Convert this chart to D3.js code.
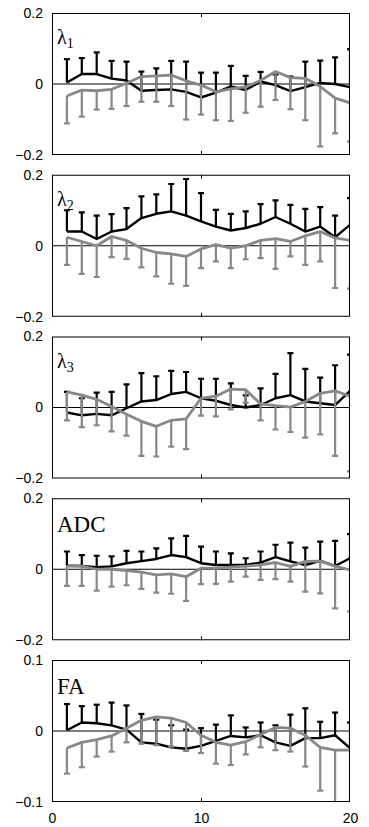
<!DOCTYPE html>
<html>
<head>
<meta charset="utf-8">
<script src="https://cdn.jsdelivr.net/npm/d3@7"></script>
<style>
  body { margin: 0; background: #fff; }
  svg { display: block; }
</style>
</head>
<body>
<svg width="369" height="827"></svg>
<script>
// sessions along x
var sessions = [1,2,3,4,5,6,7,8,9,10,11,12,13,14,15,16,17,18,19,20];
var xTicks = [0, 10, 20];
var yTicksWide = [0.2, 0, -0.2];
var yTicksNarrow = [0.1, 0, -0.1];

// lambda 1
var blackMean1 = [0.004,0.028,0.028,0.015,0.010,-0.019,-0.017,-0.015,-0.022,-0.038,-0.024,-0.007,-0.017,0.007,-0.003,-0.020,-0.009,0.003,0.000,-0.009];
var blackTop1  = [0.070,0.073,0.089,0.065,0.063,0.035,0.044,0.065,0.063,0.032,0.032,0.051,0.023,0.034,0.027,0.021,0.063,0.066,0.075,0.098];
var grayMean1  = [-0.034,-0.017,-0.019,-0.015,0.002,0.021,0.023,0.025,0.009,-0.003,-0.022,-0.014,-0.008,0.010,0.035,0.018,0.016,-0.007,-0.040,-0.053];
var grayBot1   = [-0.111,-0.092,-0.072,-0.070,-0.062,-0.050,-0.050,-0.062,-0.100,-0.086,-0.102,-0.104,-0.081,-0.064,-0.045,-0.071,-0.102,-0.176,-0.139,-0.162];

// lambda 2
var blackMean2 = [0.040,0.040,0.019,0.040,0.047,0.078,0.090,0.097,0.085,0.069,0.054,0.043,0.050,0.062,0.081,0.062,0.040,0.054,0.024,0.059];
var blackTop2  = [0.100,0.094,0.085,0.089,0.106,0.139,0.145,0.174,0.188,0.148,0.101,0.090,0.097,0.117,0.128,0.115,0.104,0.109,0.085,0.134];
var grayMean2  = [0.024,0.012,0.000,0.026,0.015,-0.007,-0.019,-0.023,-0.030,-0.009,0.003,-0.007,0.000,0.015,0.020,0.012,0.028,0.040,0.022,0.015];
var grayBot2   = [-0.054,-0.079,-0.088,-0.032,-0.037,-0.061,-0.086,-0.107,-0.113,-0.063,-0.044,-0.063,-0.038,-0.035,-0.065,-0.030,-0.054,-0.044,-0.119,-0.121];

// lambda 3
var blackMean3 = [-0.014,-0.022,-0.018,-0.022,-0.002,0.017,0.021,0.038,0.044,0.026,0.019,0.007,0.000,0.007,0.026,0.035,0.017,0.012,0.007,0.047];
var blackTop3  = [0.044,0.026,0.042,0.044,0.065,0.097,0.088,0.103,0.100,0.081,0.081,0.068,0.034,0.054,0.095,0.153,0.109,0.084,0.119,0.149];
var grayMean3  = [0.044,0.035,0.023,0.003,-0.019,-0.039,-0.053,-0.036,-0.032,0.026,0.032,0.052,0.050,0.010,0.005,0.001,0.017,0.040,0.047,0.032];
var grayBot3   = [-0.036,-0.055,-0.050,-0.067,-0.079,-0.136,-0.138,-0.110,-0.117,-0.023,-0.025,-0.005,0.014,-0.036,-0.062,-0.069,-0.085,-0.076,-0.136,-0.180];

// ADC
var blackMean4 = [0.010,0.009,0.006,0.008,0.017,0.023,0.029,0.040,0.034,0.017,0.012,0.012,0.012,0.019,0.034,0.022,0.012,0.024,0.009,0.031];
var blackTop4  = [0.050,0.040,0.038,0.036,0.052,0.050,0.059,0.087,0.094,0.064,0.050,0.045,0.031,0.050,0.069,0.075,0.061,0.078,0.080,0.099];
var grayMean4  = [0.009,0.009,0.000,0.000,-0.004,-0.008,-0.016,-0.013,-0.021,0.003,0.003,0.006,0.009,0.012,0.019,0.008,0.022,0.023,0.009,-0.002];
var grayBot4   = [-0.047,-0.047,-0.060,-0.049,-0.045,-0.055,-0.066,-0.069,-0.089,-0.042,-0.041,-0.035,-0.021,-0.030,-0.028,-0.035,-0.063,-0.068,-0.110,-0.119];

// FA
var blackMean5 = [0.001,0.012,0.011,0.008,0.002,-0.016,-0.018,-0.023,-0.025,-0.021,-0.014,-0.007,-0.009,-0.006,-0.016,-0.021,-0.010,-0.010,-0.006,-0.024];
var blackTop5  = [0.038,0.035,0.037,0.040,0.036,0.024,0.016,0.008,0.002,0.004,0.009,0.022,0.005,0.012,0.008,0.023,0.032,0.013,0.026,0.012];
var grayMean5  = [-0.024,-0.016,-0.012,-0.007,0.004,0.015,0.020,0.018,0.012,-0.006,-0.016,-0.020,-0.015,-0.005,0.005,0.004,-0.006,-0.023,-0.027,-0.027];
var grayBot5   = [-0.060,-0.051,-0.036,-0.029,-0.016,-0.018,-0.020,-0.022,-0.028,-0.031,-0.046,-0.048,-0.033,-0.023,-0.027,-0.029,-0.050,-0.084,-0.120,-0.120];

var panels = [
  { name: "λ", sub: "1", lim: 0.2, ticks: yTicksWide, bm: blackMean1, bt: blackTop1, gm: grayMean1, gb: grayBot1 },
  { name: "λ", sub: "2", lim: 0.2, ticks: yTicksWide, bm: blackMean2, bt: blackTop2, gm: grayMean2, gb: grayBot2 },
  { name: "λ", sub: "3", lim: 0.2, ticks: yTicksWide, bm: blackMean3, bt: blackTop3, gm: grayMean3, gb: grayBot3 },
  { name: "ADC", sub: "", lim: 0.2, ticks: yTicksWide, bm: blackMean4, bt: blackTop4, gm: grayMean4, gb: grayBot4 },
  { name: "FA", sub: "", lim: 0.1, ticks: yTicksNarrow, bm: blackMean5, bt: blackTop5, gm: grayMean5, gb: grayBot5 }
];

var left = 52, right = 350, ph = 142, firstTop = 13, step = 161.75;
var grayCol = "#888888";
var capW = 3;

var svg = d3.select("svg");
var x = d3.scaleLinear().domain([0, 20]).range([left, right]);

panels.forEach(function (p, k) {
  var top = firstTop + k * step;
  var y = d3.scaleLinear().domain([-p.lim, p.lim]).range([top + ph, top]);
  var g = svg.append("g");

  g.append("clipPath").attr("id", "clip" + k)
    .append("rect").attr("x", left).attr("y", top).attr("width", right - left).attr("height", ph);

  var plot = g.append("g").attr("clip-path", "url(#clip" + k + ")");

  // zero line
  plot.append("line")
    .attr("x1", left).attr("x2", right)
    .attr("y1", y(0)).attr("y2", y(0))
    .attr("stroke", "#000").attr("stroke-width", 1);

  function drawSeries(mean, end, color, lw) {
    var pts = sessions.map(function (s, i) { return { s: s, m: mean[i], e: end[i] }; });
    var bars = plot.append("g").selectAll("g").data(pts).enter().append("g");
    bars.append("line")
      .attr("x1", function (d) { return x(d.s); }).attr("x2", function (d) { return x(d.s); })
      .attr("y1", function (d) { return y(d.m); }).attr("y2", function (d) { return y(d.e); })
      .attr("stroke", color).attr("stroke-width", 2.2);
    bars.append("line")
      .attr("x1", function (d) { return x(d.s) - capW; }).attr("x2", function (d) { return x(d.s) + capW; })
      .attr("y1", function (d) { return y(d.e); }).attr("y2", function (d) { return y(d.e); })
      .attr("stroke", color).attr("stroke-width", 2.2);
    var line = d3.line().x(function (d) { return x(d.s); }).y(function (d) { return y(d.m); });
    plot.append("path").datum(pts)
      .attr("d", line).attr("fill", "none")
      .attr("stroke", color).attr("stroke-width", lw)
      .attr("stroke-linejoin", "round");
  }
  drawSeries(p.bm, p.bt, "#000", 2.4);
  drawSeries(p.gm, p.gb, grayCol, 2.8);

  // frame
  g.append("rect")
    .attr("x", left + 0.5).attr("y", top + 0.5)
    .attr("width", right - left - 1).attr("height", ph - 1)
    .attr("fill", "none").attr("stroke", "#000").attr("stroke-width", 1);

  // inward x ticks
  g.append("g").attr("transform", "translate(0," + (top + ph) + ")")
    .call(d3.axisBottom(x).tickValues([10]).tickSize(-4).tickFormat(""))
    .call(function (a) { a.select(".domain").remove(); });
  g.append("g").attr("transform", "translate(0," + top + ")")
    .call(d3.axisTop(x).tickValues([10]).tickSize(-4).tickFormat(""))
    .call(function (a) { a.select(".domain").remove(); });

  // y tick labels
  var ya = g.append("g").attr("transform", "translate(" + left + ",0)")
    .call(d3.axisLeft(y).tickValues(p.ticks).tickSize(0).tickPadding(9)
      .tickFormat(function (v) { return v === 0 ? "0" : d3.format(".1f")(v); }));
  ya.select(".domain").remove();
  ya.selectAll("text").attr("font-family", "Liberation Sans, Arial, sans-serif")
    .attr("font-size", 14).attr("fill", "#000");

  // panel label
  var lab = g.append("text")
    .attr("x", left + 5).attr("y", top + (p.sub ? 31 : 34))
    .attr("font-family", "Liberation Serif, Times New Roman, serif")
    .attr("font-size", p.sub ? 20 : 23).attr("fill", "#000");
  lab.append("tspan").text(p.name);
  if (p.sub) {
    lab.append("tspan").attr("dy", 4).attr("font-size", 14).text(p.sub);
  }

  if (k === panels.length - 1) {
    var xa = g.append("g").attr("transform", "translate(0," + (top + ph) + ")")
      .call(d3.axisBottom(x).tickValues(xTicks).tickSize(0).tickPadding(11).tickFormat(d3.format("d")));
    xa.select(".domain").remove();
    xa.selectAll("text").attr("font-family", "Liberation Sans, Arial, sans-serif")
      .attr("font-size", 14).attr("fill", "#000");
  }
});
</script>
</body>
</html>
